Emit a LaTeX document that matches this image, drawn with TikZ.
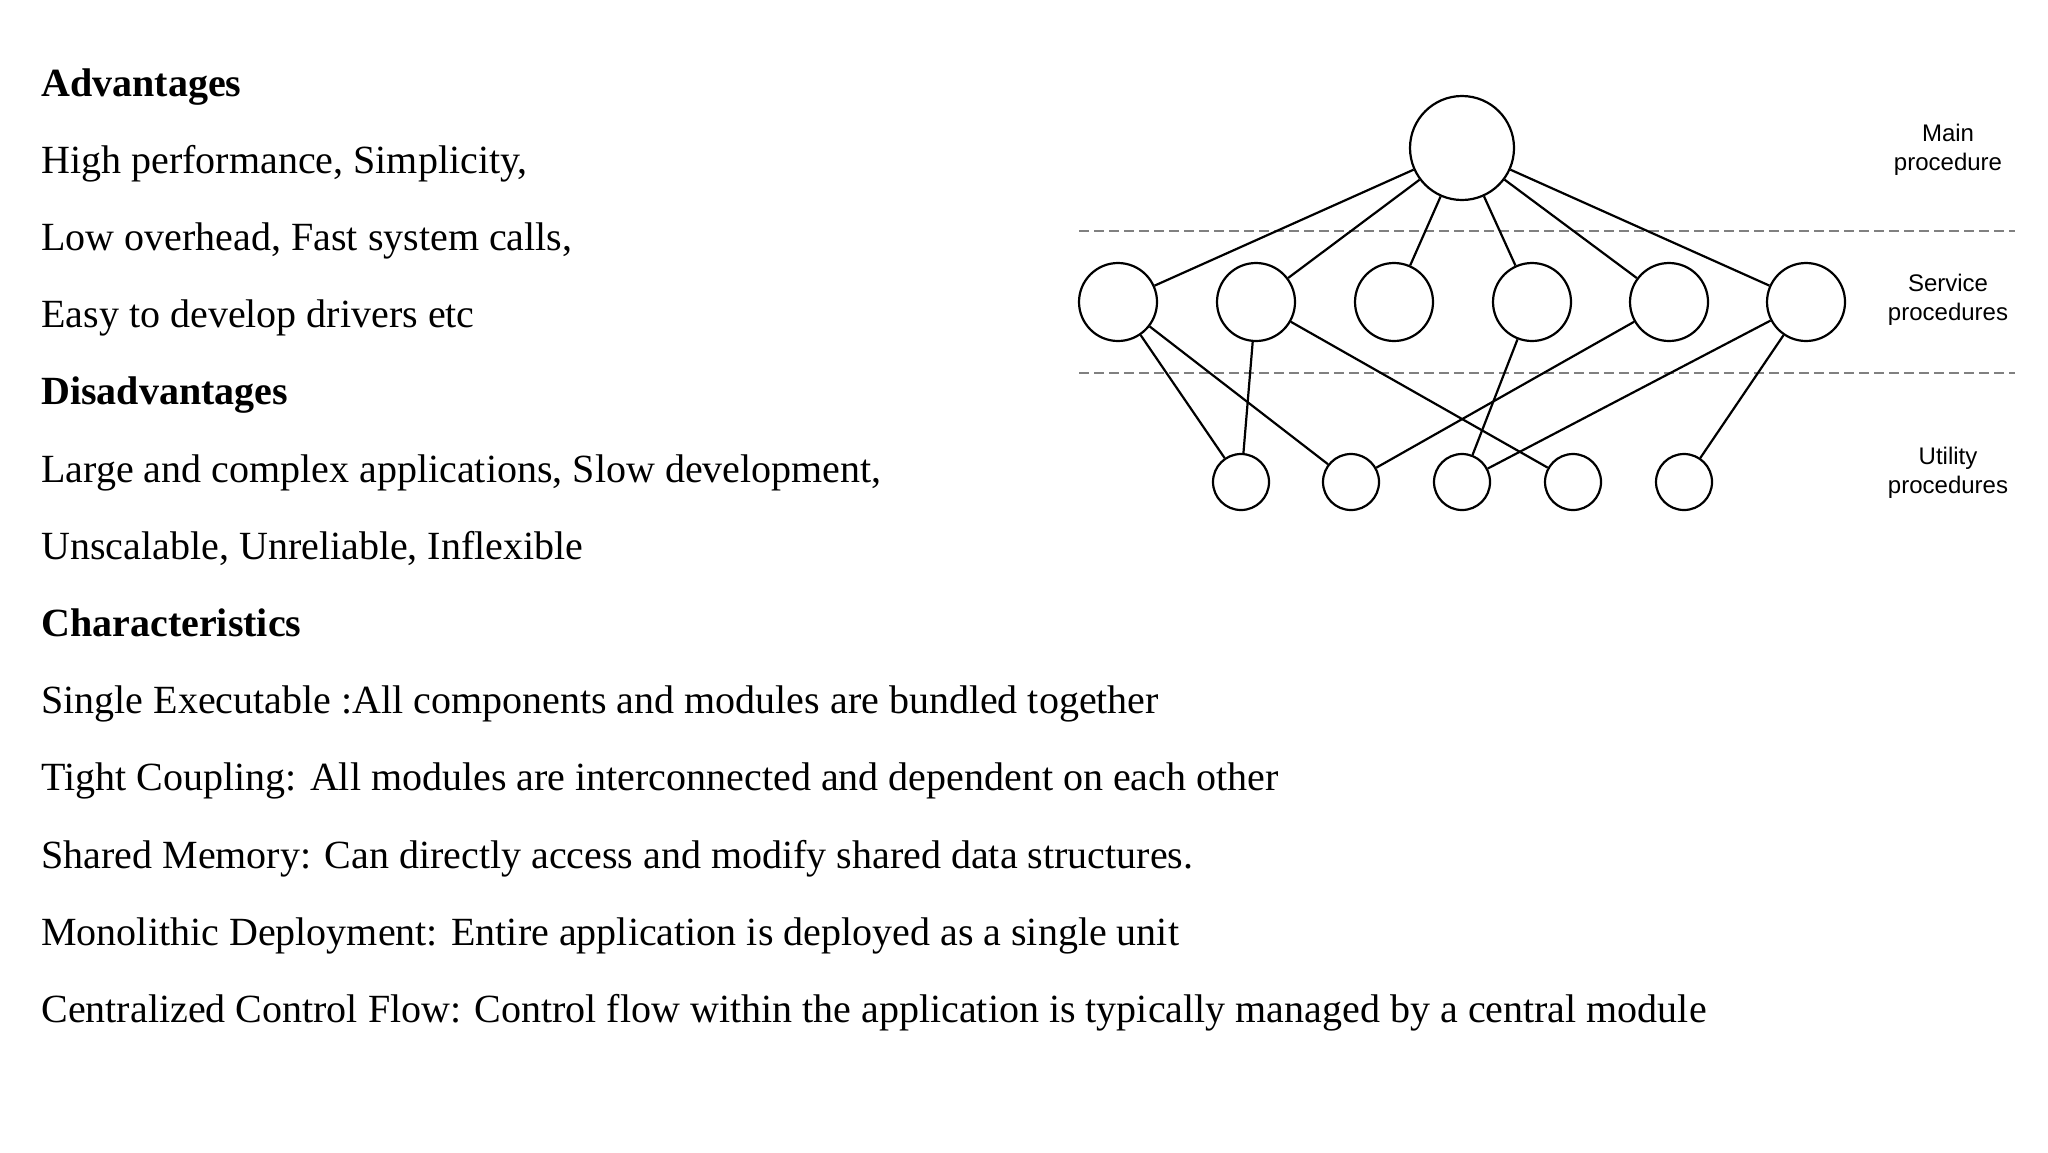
\documentclass[tikz,border=0pt]{standalone}
\usepackage{fontspec}
\setmainfont{Liberation Serif}
\newfontfamily\lab{Liberation Sans}
\begin{document}
\begin{tikzpicture}[x=0.5pt,y=-0.5pt,
  txt/.style={anchor=base west,inner sep=0,font=\fontsize{20}{24}\selectfont},
  hd/.style={txt,font=\fontsize{20}{24}\selectfont\bfseries},
  circ/.style={draw,circle,line width=1.1pt,inner sep=0},
  lbl/.style={align=center,font=\lab\fontsize{12}{14.5}\selectfont,inner sep=0},
  dl/.style={draw=gray,dashed,line width=1.2pt,dash pattern=on 5pt off 2.5pt},
  ed/.style={line width=1.1pt}]
\useasboundingbox (0,0) rectangle (2048,1152);
\fill[white] (0,0) rectangle (2048,1152);
\foreach \t [count=\i] in {
 {\textbf{Advantages}},
 {High performance, Simplicity,},
 {Low overhead, Fast system calls,},
 {Easy to develop drivers etc},
 {\textbf{Disadvantages}},
 {Large and complex applications, Slow development,},
 {Unscalable, Unreliable, Inflexible},
 {\textbf{Characteristics}},
 {Single Executable :All components and modules are bundled together},
 {Tight Coupling: All modules are interconnected and dependent on each other},
 {Shared Memory: Can directly access and modify shared data structures.},
 {Monolithic Deployment: Entire application is deployed as a single unit},
 {Centralized Control Flow: Control flow within the application is typically managed by a central module}}
 \node[txt] (t\i) at (41,{84+12+(\i-1)*77.2}) {\t};
\coordinate (d1a) at (1079,231); \coordinate (d1b) at (2015,231);
\coordinate (d2a) at (1079,373); \coordinate (d2b) at (2015,373);
\draw[dl] (d1a) -- (d1b);
\draw[dl] (d2a) -- (d2b);
\node[circ,minimum size=52pt] (m) at (1462,148) {};
\foreach \x [count=\i] in {1118,1256,1394,1532,1669,1806}
  \node[circ,minimum size=39pt] (s\i) at (\x,302) {};
\foreach \x [count=\i] in {1241,1351,1462,1573,1684}
  \node[circ,minimum size=28pt] (u\i) at (\x,482) {};
\foreach \i in {1,...,6} \draw[ed] (m) -- (s\i);
\draw[ed] (s1) -- (u1); \draw[ed] (s1) -- (u2);
\draw[ed] (s2) -- (u1); \draw[ed] (s2) -- (u4);
\draw[ed] (s4) -- (u3); \draw[ed] (s5) -- (u2);
\draw[ed] (s6) -- (u3); \draw[ed] (s6) -- (u5);
\node[lbl] (l1) at (1948,150) {Main\\procedure};
\node[lbl] (l2) at (1948,300) {Service\\procedures};
\node[lbl] (l3) at (1948,473) {Utility\\procedures};
\end{tikzpicture}
\end{document}
